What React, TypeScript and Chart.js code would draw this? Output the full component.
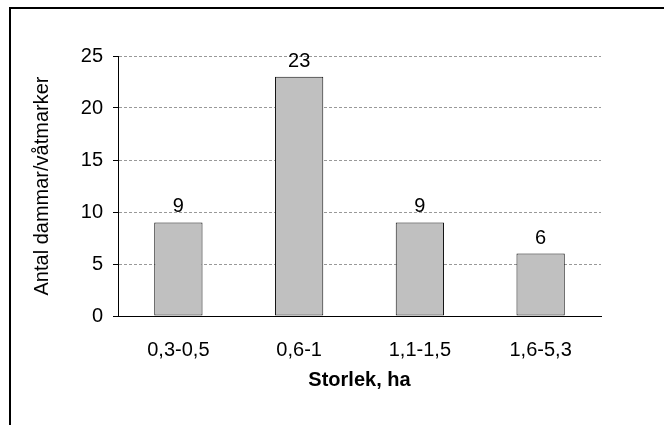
import React, { useEffect, useRef } from "react";
import { Chart, registerables } from "chart.js";

Chart.register(...registerables);

const categories = ["0,3-0,5", "0,6-1", "1,1-1,5", "1,6-5,3"];
const counts = [9, 23, 9, 6];
const yTitle = "Antal dammar/våtmarker";
const xTitle = "Storlek, ha";

const FONT = "'Liberation Sans', Arial, sans-serif";

const framePlugin = {
  id: "frame",
  beforeDraw(chart: any) {
    const ctx = chart.ctx;
    ctx.save();
    ctx.fillStyle = "#fff";
    ctx.fillRect(0, 0, chart.width, chart.height);
    ctx.strokeStyle = "#000";
    ctx.lineWidth = 2;
    ctx.beginPath();
    ctx.moveTo(10, chart.height + 5);
    ctx.lineTo(10, 8);
    ctx.lineTo(chart.width + 5, 8);
    ctx.stroke();
    ctx.restore();
  },
};

const valueLabelPlugin = {
  id: "valueLabels",
  afterDatasetsDraw(chart: any) {
    const ctx = chart.ctx;
    const meta = chart.getDatasetMeta(0);
    const data = chart.data.datasets[0].data;
    ctx.save();
    ctx.fillStyle = "#000";
    ctx.font = `20px ${FONT}`;
    ctx.textAlign = "center";
    ctx.textBaseline = "alphabetic";
    meta.data.forEach((bar: any, i: number) => {
      ctx.fillText(String(data[i]), bar.x, bar.y - 10);
    });
    ctx.restore();
  },
};

export default function App() {
  const ref = useRef<HTMLCanvasElement>(null);

  useEffect(() => {
    if (!ref.current) return;
    const chart = new Chart(ref.current, {
      type: "bar",
      data: {
        labels: categories,
        datasets: [
          {
            data: counts,
            backgroundColor: "#c0c0c0",
            borderColor: "#111",
            borderWidth: 1,
            borderSkipped: false,
            barPercentage: 0.4,
            categoryPercentage: 1,
          },
        ],
      },
      options: {
        responsive: false,
        animation: false,
        layout: { padding: { left: 0, top: 56, right: 63, bottom: 29 } },
        plugins: {
          legend: { display: false },
          tooltip: { enabled: false },
        },
        scales: {
          x: {
            grid: { display: false },
            border: { display: true, color: "#000", width: 1 },
            ticks: {
              color: "#000",
              font: { family: FONT, size: 20 },
              padding: 14,
              maxRotation: 0,
            },
            title: {
              display: true,
              text: xTitle,
              color: "#000",
              font: { family: FONT, size: 20, weight: "bold" },
              padding: { top: 0, bottom: 4 },
            },
            afterFit(scale: any) {
              scale.height = 80;
            },
          },
          y: {
            min: 0,
            max: 25,
            ticks: {
              stepSize: 5,
              color: "#000",
              font: { family: FONT, size: 20 },
              padding: 10,
            },
            grid: {
              color: "#999",
              lineWidth: 1,
              tickLength: 5,
              tickColor: "#000",
              tickBorderDash: [],
            },
            border: { display: true, color: "#000", width: 1, dash: [3, 2] },
            title: {
              display: true,
              text: yTitle,
              color: "#000",
              font: { family: FONT, size: 20 },
              padding: { top: 30, bottom: 0 },
            },
            afterFit(scale: any) {
              scale.width = 118;
            },
          },
        },
      },
      plugins: [framePlugin, valueLabelPlugin],
    });
    return () => chart.destroy();
  }, []);

  return (
    <div style={{ position: "absolute", left: 0, top: 0, width: 664, height: 425 }}>
      <canvas ref={ref} width={664} height={425} />
    </div>
  );
}
